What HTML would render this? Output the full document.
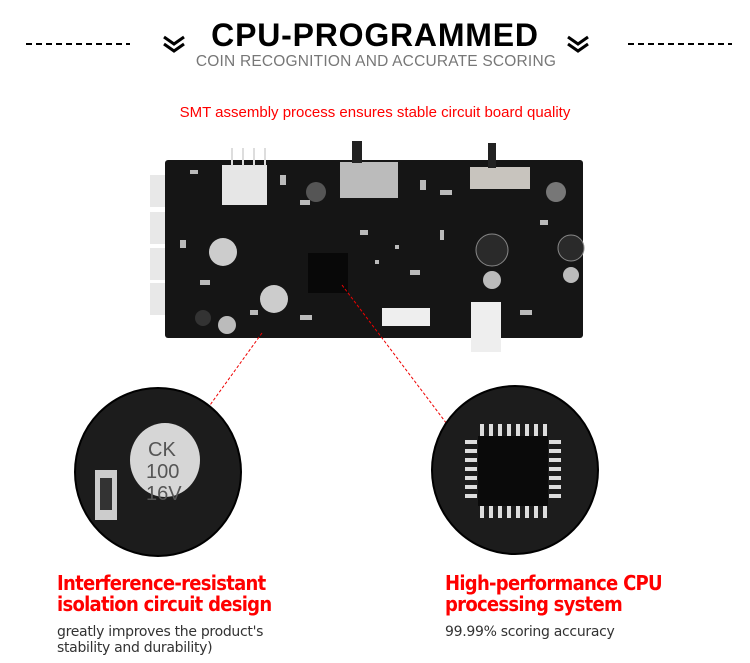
<!DOCTYPE html>
<html><head><meta charset="utf-8"><style>
body{margin:0;background:#fff;width:750px;height:663px;overflow:hidden;position:relative;font-family:"DejaVu Sans","Liberation Sans",sans-serif}
.a{position:absolute;white-space:nowrap}
.r{transform-origin:0 0;transform:scaleX(0.9)}
</style></head><body>
<svg width="750" height="663" style="position:absolute;left:0;top:0">
<g stroke="#000" stroke-width="2" stroke-dasharray="6,4"><line x1="26" y1="44" x2="130" y2="44"/><line x1="628" y1="44" x2="732" y2="44"/></g>
<g fill="none" stroke="#000" stroke-width="3"><polyline points="164,37 174,44 184,37"/><polyline points="164,44 174,51 184,44"/><polyline points="568,37 578,44 588,37"/><polyline points="568,44 578,51 588,44"/></g>
<rect x="150" y="175" width="36" height="32" fill="#e8e8e8"/><rect x="150" y="212" width="36" height="32" fill="#e8e8e8"/><rect x="150" y="248" width="36" height="32" fill="#e8e8e8"/><rect x="150" y="283" width="36" height="32" fill="#e8e8e8"/>
<rect x="165" y="160" width="418" height="178" fill="#151515" rx="3"/>
<g fill="#bbb"><rect x="190" y="170" width="8" height="4"/><rect x="280" y="175" width="6" height="10"/><rect x="300" y="200" width="10" height="5"/><rect x="420" y="180" width="6" height="10"/><rect x="440" y="190" width="12" height="5"/><rect x="200" y="280" width="10" height="5"/><rect x="250" y="310" width="8" height="5"/><rect x="300" y="315" width="12" height="5"/><rect x="360" y="230" width="8" height="5"/><rect x="410" y="270" width="10" height="5"/><rect x="520" y="310" width="12" height="5"/><rect x="540" y="220" width="8" height="5"/><rect x="180" y="240" width="6" height="8"/><rect x="440" y="230" width="4" height="10"/><rect x="395" y="245" width="4" height="4"/><rect x="375" y="260" width="4" height="4"/></g>
<rect x="222" y="165" width="45" height="40" fill="#e6e6e6"/>
<g stroke="#ddd" stroke-width="2"><line x1="232" y1="148" x2="232" y2="166"/><line x1="243" y1="148" x2="243" y2="166"/><line x1="254" y1="148" x2="254" y2="166"/><line x1="265" y1="148" x2="265" y2="166"/></g>
<rect x="340" y="162" width="58" height="36" fill="#bbb"/><rect x="352" y="141" width="10" height="22" fill="#222"/>
<rect x="470" y="167" width="60" height="22" fill="#c8c4be"/><rect x="488" y="143" width="8" height="25" fill="#222"/>
<circle cx="316" cy="192" r="10" fill="#555"/><circle cx="556" cy="192" r="10" fill="#777"/>
<circle cx="223" cy="252" r="14" fill="#ccc"/><circle cx="274" cy="299" r="14" fill="#ccc"/>
<rect x="308" y="253" width="40" height="40" fill="#080808"/>
<rect x="382" y="308" width="48" height="18" fill="#eee"/><rect x="471" y="302" width="30" height="50" fill="#eee"/>
<circle cx="203" cy="318" r="8" fill="#333"/><circle cx="227" cy="325" r="9" fill="#bbb"/>
<circle cx="492" cy="250" r="16" fill="#2a2a2a" stroke="#888"/><circle cx="571" cy="248" r="13" fill="#2a2a2a" stroke="#888"/>
<circle cx="492" cy="280" r="9" fill="#bbb"/><circle cx="571" cy="275" r="8" fill="#bbb"/>
<g stroke="#e00" stroke-width="1" stroke-dasharray="3,2"><line x1="262" y1="333" x2="205" y2="412"/><line x1="342" y1="285" x2="450" y2="428"/></g>
<ellipse cx="158" cy="472" rx="83" ry="84" fill="#1c1c1c" stroke="#000" stroke-width="2"/>
<ellipse cx="165" cy="460" rx="35" ry="37" fill="#d6d6d6"/>
<rect x="95" y="470" width="22" height="50" fill="#ccc"/><rect x="100" y="478" width="12" height="32" fill="#333"/>
<ellipse cx="515" cy="470" rx="83" ry="84" fill="#1c1c1c" stroke="#000" stroke-width="2"/>
<rect x="478" y="436" width="70" height="70" fill="#0a0a0a"/>
<g fill="#ddd">
<rect x="480" y="424" width="4" height="12"/><rect x="489" y="424" width="4" height="12"/><rect x="498" y="424" width="4" height="12"/><rect x="507" y="424" width="4" height="12"/><rect x="516" y="424" width="4" height="12"/><rect x="525" y="424" width="4" height="12"/><rect x="534" y="424" width="4" height="12"/><rect x="543" y="424" width="4" height="12"/>
<rect x="480" y="506" width="4" height="12"/><rect x="489" y="506" width="4" height="12"/><rect x="498" y="506" width="4" height="12"/><rect x="507" y="506" width="4" height="12"/><rect x="516" y="506" width="4" height="12"/><rect x="525" y="506" width="4" height="12"/><rect x="534" y="506" width="4" height="12"/><rect x="543" y="506" width="4" height="12"/>
<rect x="465" y="440" width="12" height="4"/><rect x="465" y="449" width="12" height="4"/><rect x="465" y="458" width="12" height="4"/><rect x="465" y="467" width="12" height="4"/><rect x="465" y="476" width="12" height="4"/><rect x="465" y="485" width="12" height="4"/><rect x="465" y="494" width="12" height="4"/>
<rect x="549" y="440" width="12" height="4"/><rect x="549" y="449" width="12" height="4"/><rect x="549" y="458" width="12" height="4"/><rect x="549" y="467" width="12" height="4"/><rect x="549" y="476" width="12" height="4"/><rect x="549" y="485" width="12" height="4"/><rect x="549" y="494" width="12" height="4"/>
</g>
<text x="148" y="456" font-family="Liberation Sans" font-size="20" fill="#555">CK</text>
<text x="146" y="478" font-family="Liberation Sans" font-size="20" fill="#555">100</text>
<text x="146" y="500" font-family="Liberation Sans" font-size="20" fill="#555">16V</text>
</svg>
<div class="a" style="left:0;width:750px;text-align:center;top:17px;font:bold 32px 'Liberation Sans',sans-serif;letter-spacing:0.8px">CPU-PROGRAMMED</div>
<div class="a" style="left:0;width:752px;text-align:center;top:53px;font:15.5px 'Liberation Sans',sans-serif;color:#777;letter-spacing:0.2px">COIN RECOGNITION AND ACCURATE SCORING</div>
<div class="a" style="left:0;width:750px;text-align:center;top:104px;font:15px 'Liberation Sans',sans-serif;color:#f00">SMT assembly process ensures stable circuit board quality</div>
<div class="a r" style="left:57px;top:573px;font:bold 20px/21px 'DejaVu Sans',sans-serif;color:#f00;letter-spacing:-0.8px">Interference-resistant<br>isolation circuit design</div>
<div class="a r" style="left:445px;top:573px;font:bold 20px/21px 'DejaVu Sans',sans-serif;color:#f00;letter-spacing:-0.8px">High-performance CPU<br>processing system</div>
<div class="a" style="left:57px;top:624px;font:14px/16px 'DejaVu Sans',sans-serif;color:#333;letter-spacing:-0.3px">greatly improves the product's<br>stability and durability)</div>
<div class="a" style="left:445px;top:624px;font:14px/16px 'DejaVu Sans',sans-serif;color:#333;letter-spacing:-0.3px">99.99% scoring accuracy</div>
</body></html>
